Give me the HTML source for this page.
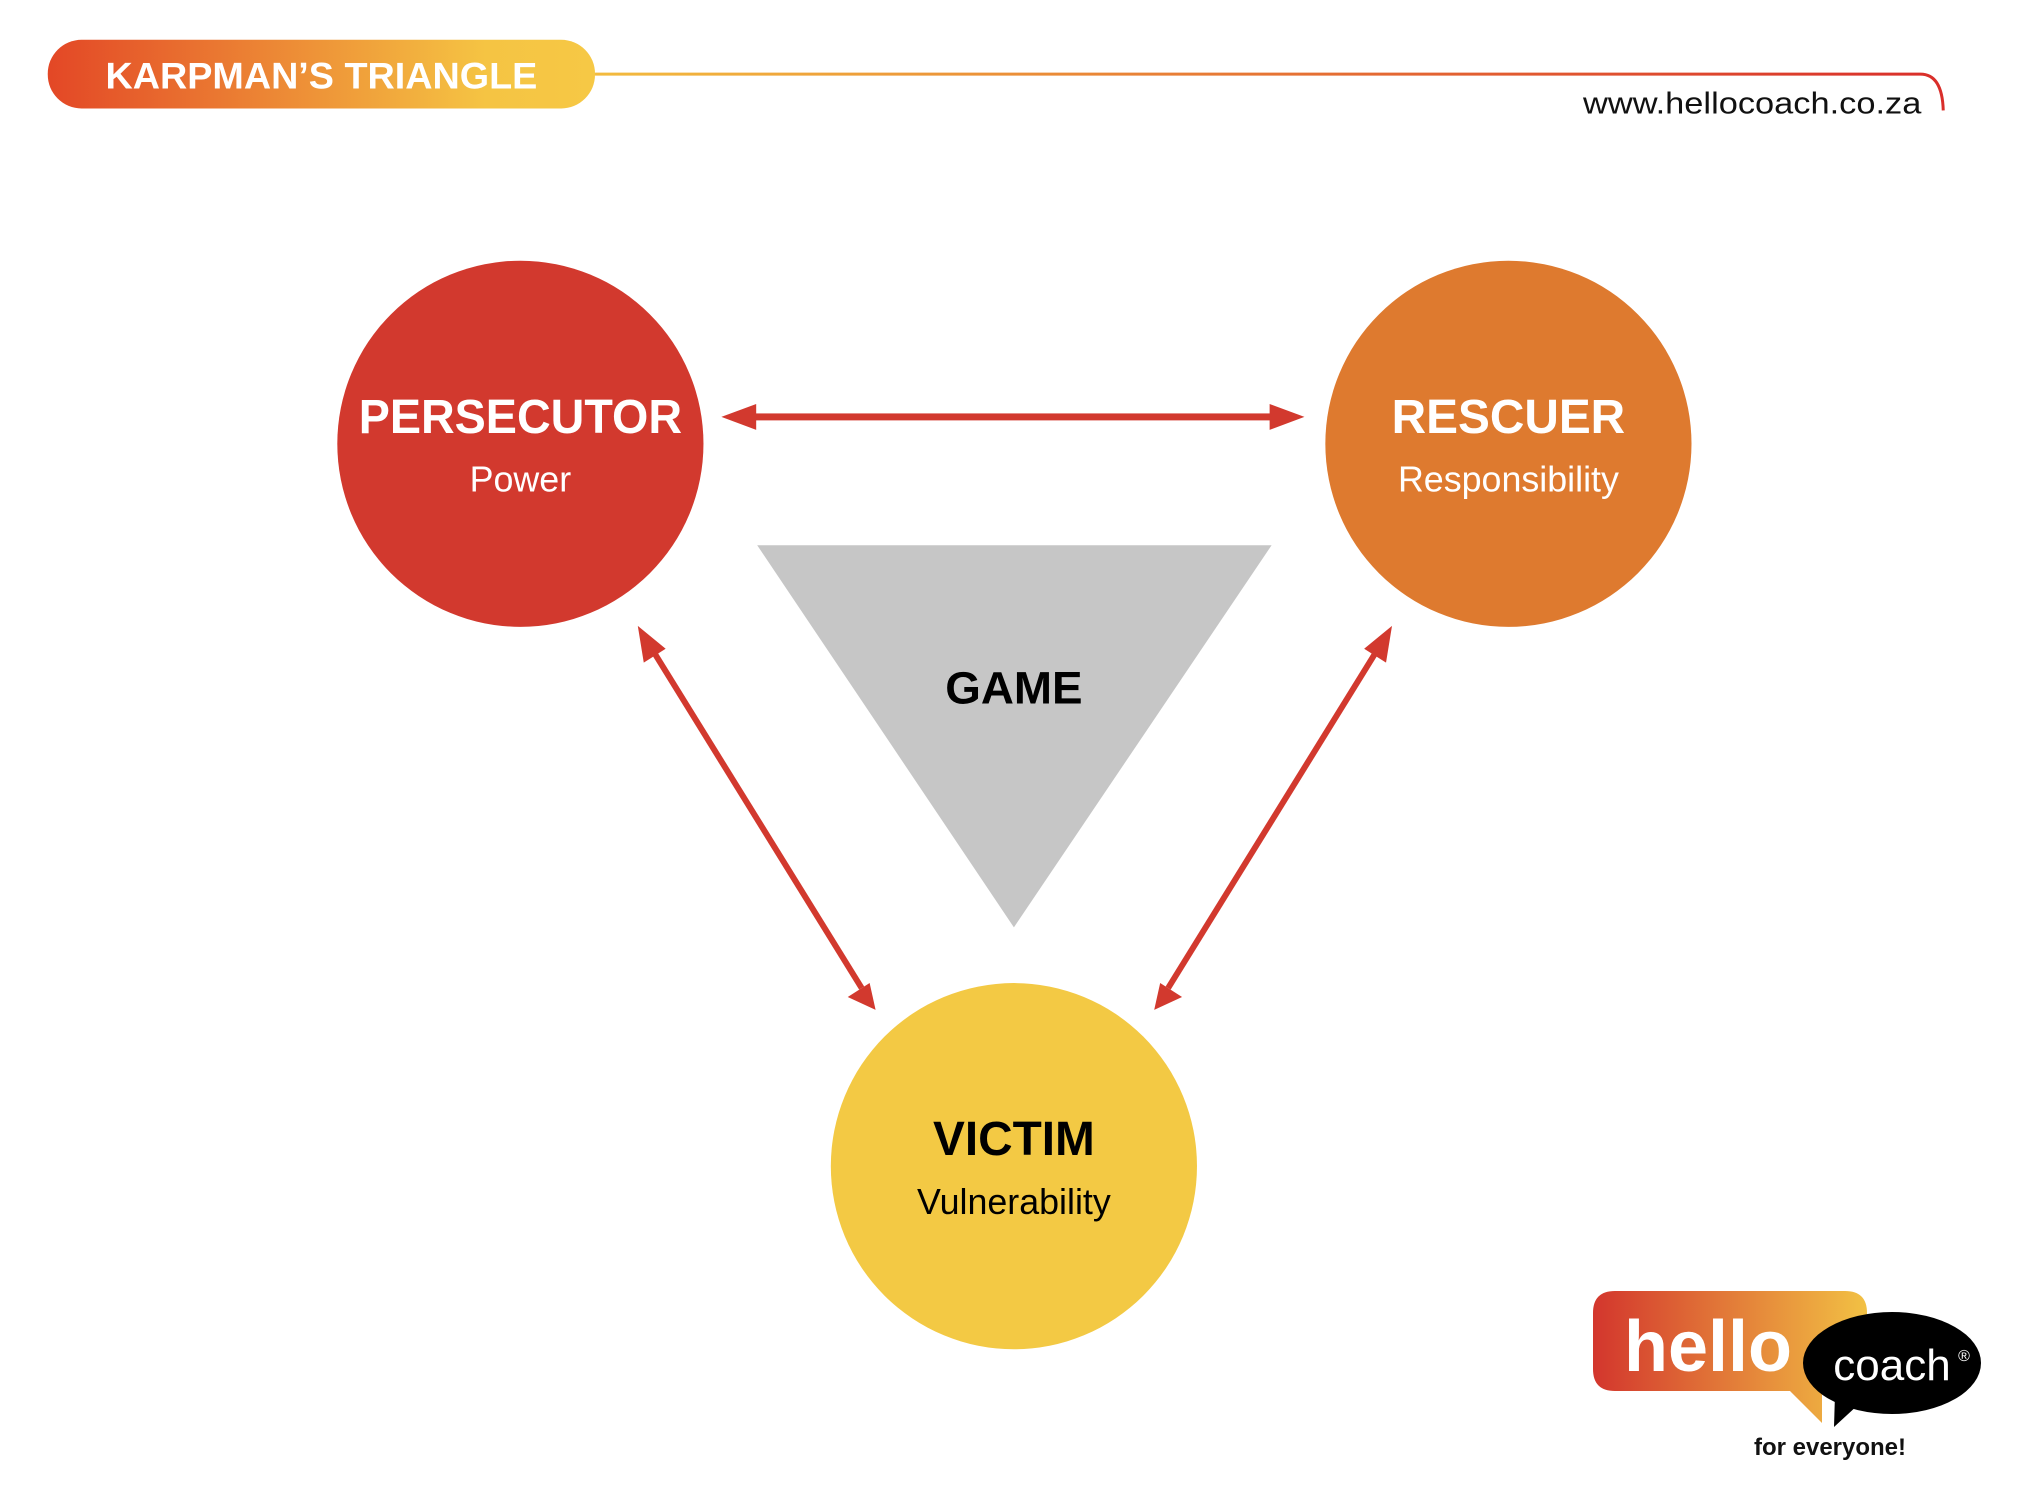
<!DOCTYPE html>
<html><head><meta charset="utf-8"><style>
html,body{margin:0;padding:0;background:#fff;}
svg{display:block;}
text{font-family:"Liberation Sans",sans-serif;}
</style></head><body>
<svg width="2040" height="1506" viewBox="0 0 2040 1506" xmlns="http://www.w3.org/2000/svg">
<defs>
<linearGradient id="pill" x1="0" x2="1" y1="0" y2="0">
<stop offset="0" stop-color="#e34726"/><stop offset="0.8" stop-color="#f5c443"/><stop offset="1" stop-color="#f6c845"/>
</linearGradient>
<linearGradient id="line" x1="598" x2="1950" y1="0" y2="0" gradientUnits="userSpaceOnUse">
<stop offset="0" stop-color="#f3bb3e"/><stop offset="1" stop-color="#d92e2a"/>
</linearGradient>
<linearGradient id="logo" x1="0" x2="1" y1="0" y2="0">
<stop offset="0" stop-color="#d3362d"/><stop offset="1" stop-color="#f2c144"/>
</linearGradient>
</defs>
<g transform="scale(0.995)">
<rect x="48" y="40" width="550" height="69" rx="34" fill="url(#pill)"/>
<text x="106" y="89" font-size="37" font-weight="bold" fill="#fff" textLength="434" lengthAdjust="spacingAndGlyphs">KARPMAN’S TRIANGLE</text>
<path d="M598 74.5 H1930 Q1952 74.5 1953 111" fill="none" stroke="url(#line)" stroke-width="3"/>
<text x="1931" y="114" font-size="31" fill="#111" text-anchor="end" textLength="340" lengthAdjust="spacingAndGlyphs">www.hellocoach.co.za</text>

<polygon points="761,548 1278,548 1019,932" fill="#c6c6c6"/>
<text x="1019" y="707" font-size="46" font-weight="bold" fill="#000" text-anchor="middle">GAME</text>

<circle cx="523" cy="446" r="184" fill="#d2392e"/>
<circle cx="1516" cy="446" r="184" fill="#de7a2f"/>
<circle cx="1019" cy="1172" r="184" fill="#f3c944"/>

<text x="523" y="435" font-size="48" font-weight="bold" fill="#fff" text-anchor="middle" textLength="325" lengthAdjust="spacingAndGlyphs">PERSECUTOR</text>
<text x="523" y="494" font-size="36" fill="#fff" text-anchor="middle">Power</text>
<text x="1516" y="435" font-size="48" font-weight="bold" fill="#fff" text-anchor="middle">RESCUER</text>
<text x="1516" y="494" font-size="36" fill="#fff" text-anchor="middle">Responsibility</text>
<text x="1019" y="1161" font-size="48" font-weight="bold" fill="#000" text-anchor="middle">VICTIM</text>
<text x="1019" y="1220" font-size="36" fill="#000" text-anchor="middle">Vulnerability</text>

<g fill="#d2392e" stroke="none">
<rect x="755" y="415.5" width="526" height="7"/>
<polygon points="725,419 760,406 760,432"/>
<polygon points="1311,419 1276,406 1276,432"/>
</g>
<g stroke="#d2392e" stroke-width="6">
<line x1="655" y1="652" x2="866" y2="993"/>
<line x1="1385" y1="652" x2="1174" y2="993"/>
</g>
<g fill="#d2392e">
<polygon points="641,629 647,666 669,652"/>
<polygon points="880,1015 852,1002 874,988"/>
<polygon points="1399,629 1393,666 1371,652"/>
<polygon points="1160,1015 1188,1002 1166,988"/>
</g>
</g>

<g transform="translate(-8,-7)">
<path d="M1623 1298 H1853 Q1875 1298 1875 1320 V1378 Q1875 1398 1853 1398 H1830 V1430 L1798 1398 H1623 Q1601 1398 1601 1376 V1320 Q1601 1298 1623 1298 Z" fill="url(#logo)"/>
<text x="1632" y="1378" font-size="72" font-weight="bold" fill="#fff">hello</text>
<ellipse cx="1900" cy="1370" rx="89" ry="51" fill="#000"/>
<polygon points="1843,1401 1842,1434 1867,1411" fill="#000"/>
<text x="1900" y="1387" font-size="44" fill="#fff" text-anchor="middle">coach</text>
<text x="1972" y="1368" font-size="16" fill="#fff" text-anchor="middle">®</text>
<text x="1838" y="1462" font-size="24" font-weight="bold" fill="#111" text-anchor="middle">for everyone!</text>
</g>
</svg>
</body></html>
